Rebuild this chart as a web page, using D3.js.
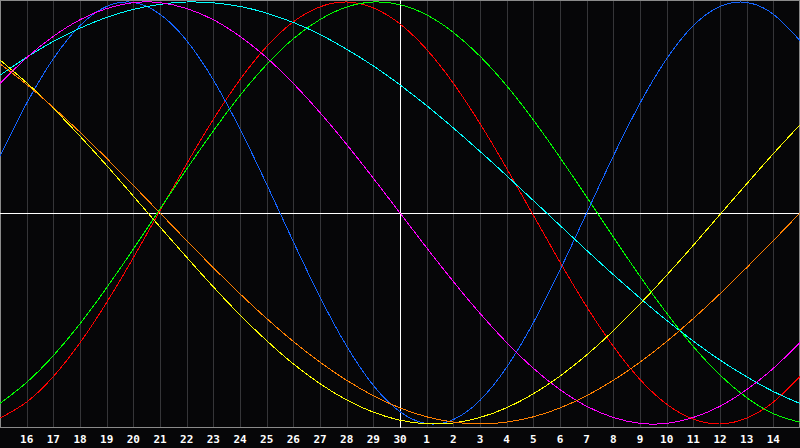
<!DOCTYPE html>
<html>
<head>
<meta charset="utf-8">
<script src="https://cdn.jsdelivr.net/npm/d3@7"></script>
<style>
html,body{margin:0;padding:0;background:#060608;}
svg{display:block;}
</style>
</head>
<body>
<svg id="chart" width="800" height="448"></svg>
<script>
// Day labels shown under the grid lines (index 1..29 of the 31-day window)
const dayLabels = ["16","17","18","19","20","21","22","23","24","25","26","27","28","29","30",
                   "1","2","3","4","5","6","7","8","9","10","11","12","13","14"];

// Daily values (window index 0..30)
const blue = [0.270,0.520,0.731,0.888,0.979,0.998,0.942,0.817,0.631,0.398,0.136,-0.136,-0.398,-0.631,-0.817,-0.942,-0.998,-0.979,-0.888,-0.731,-0.520,-0.270,0.000,0.270,0.520,0.731,0.888,0.979,0.998,0.942,0.817];
const red = [-0.972,-0.896,-0.775,-0.615,-0.424,-0.212,0.011,0.233,0.444,0.632,0.789,0.906,0.977,1.000,0.972,0.896,0.775,0.615,0.424,0.212,-0.011,-0.233,-0.444,-0.632,-0.789,-0.906,-0.977,-1.000,-0.972,-0.896,-0.775];
const green = [-0.902,-0.803,-0.676,-0.525,-0.354,-0.171,0.019,0.208,0.389,0.557,0.704,0.826,0.917,0.976,1.000,0.987,0.939,0.856,0.743,0.603,0.441,0.263,0.076,-0.114,-0.300,-0.475,-0.633,-0.768,-0.875,-0.951,-0.992];
const magenta = [0.614,0.736,0.837,0.916,0.969,0.997,0.997,0.969,0.916,0.837,0.736,0.614,0.476,0.325,0.165,0.000,-0.165,-0.325,-0.476,-0.614,-0.736,-0.837,-0.916,-0.969,-0.997,-0.997,-0.969,-0.916,-0.837,-0.736,-0.614];
const yellow = [0.725,0.617,0.496,0.364,0.225,0.080,-0.066,-0.210,-0.350,-0.483,-0.605,-0.715,-0.809,-0.886,-0.944,-0.982,-0.999,-0.995,-0.969,-0.923,-0.857,-0.773,-0.673,-0.558,-0.431,-0.295,-0.153,-0.007,0.138,0.281,0.418];
const orange = [0.707,0.609,0.500,0.383,0.259,0.131,0.000,-0.131,-0.259,-0.383,-0.500,-0.609,-0.707,-0.793,-0.866,-0.924,-0.966,-0.991,-1.000,-0.991,-0.966,-0.924,-0.866,-0.793,-0.707,-0.609,-0.500,-0.383,-0.259,-0.131,0.000];
const cyan = [0.653,0.738,0.813,0.876,0.927,0.965,0.989,1.000,0.996,0.979,0.947,0.903,0.846,0.776,0.697,0.607,0.509,0.403,0.292,0.177,0.059,-0.059,-0.177,-0.292,-0.403,-0.509,-0.607,-0.697,-0.776,-0.846,-0.903];

const seriesNames = ["red","green","blue","cyan","magenta","yellow","orange"];
const seriesValues = [red, green, blue, cyan, magenta, yellow, orange];
const seriesColors = ["#ff0000","#00ff00","#1464ff","#00ffff","#ff00ff","#ffff00","#ff8000"];

const svg = d3.select("#chart");
const W = 800, H = 448;
const x = d3.scaleLinear().domain([0, 30]).range([0, 800]);
const y = d3.scaleLinear().domain([-1, 1]).range([424, 2]);
const frameBottom = 427.5;

svg.append("rect").attr("x",0).attr("y",0).attr("width",W).attr("height",H).attr("fill","#060608");

// vertical grid lines
const gridIdx = d3.range(1, 30);
svg.append("g").selectAll("line").data(gridIdx).join("line")
  .attr("x1", d => Math.round(x(d)) + 0.5).attr("x2", d => Math.round(x(d)) + 0.5)
  .attr("y1", 0).attr("y2", frameBottom)
  .attr("stroke", d => d === 15 ? "none" : "#353538")
  .attr("stroke-width", 1)
  .attr("shape-rendering", "crispEdges");

// frame
const frame = svg.append("g").attr("stroke","#8a8a8a").attr("stroke-width",1).attr("shape-rendering","crispEdges");
frame.append("line").attr("x1",0).attr("x2",800).attr("y1",0.5).attr("y2",0.5);
frame.append("line").attr("x1",0.5).attr("x2",0.5).attr("y1",0).attr("y2",frameBottom);
frame.append("line").attr("x1",799.5).attr("x2",799.5).attr("y1",0).attr("y2",frameBottom);
frame.append("line").attr("x1",0).attr("x2",800).attr("y1",frameBottom).attr("y2",frameBottom);

// center cross (today)
svg.append("line").attr("x1",0).attr("x2",800).attr("y1",Math.round(y(0))+0.5).attr("y2",Math.round(y(0))+0.5)
  .attr("stroke","#ffffff").attr("stroke-width",1).attr("shape-rendering","crispEdges");
svg.append("line").attr("x1",Math.round(x(15))+0.5).attr("x2",Math.round(x(15))+0.5).attr("y1",0).attr("y2",frameBottom)
  .attr("stroke","#ffffff").attr("stroke-width",1).attr("shape-rendering","crispEdges");

// curves
const line = d3.line().x((d,i) => x(i)).y(d => y(d)).curve(d3.curveNatural);
svg.append("g").selectAll("path").data(seriesValues).join("path")
  .attr("d", d => line(d))
  .attr("fill","none")
  .attr("stroke", (d,i) => seriesColors[i])
  .attr("stroke-width", 1)
  .attr("shape-rendering","crispEdges");

// day labels
svg.append("g").selectAll("text").data(dayLabels).join("text")
  .attr("x", (d,i) => x(i + 1))
  .attr("y", 443)
  .attr("text-anchor","middle")
  .attr("fill","#ffffff")
  .attr("font-family","'DejaVu Sans Mono', monospace")
  .attr("font-weight","bold")
  .attr("font-size","11px")
  .text(d => d);
</script>
</body>
</html>
